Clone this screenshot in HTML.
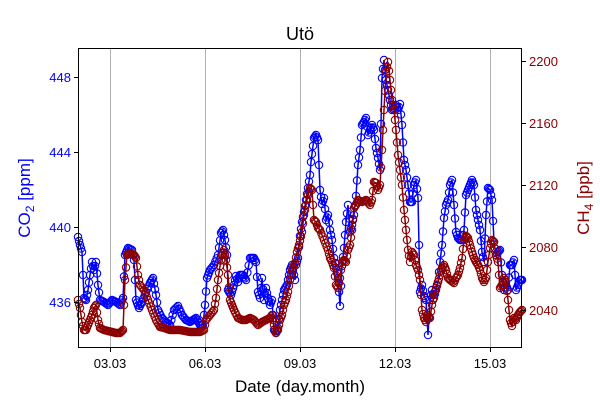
<!DOCTYPE html>
<html><head><meta charset="utf-8"><style>
html,body{margin:0;padding:0;background:#fff;}
svg{display:block;font-family:"Liberation Sans","DejaVu Sans",sans-serif;}
</style></head><body>
<svg id="s" width="600" height="400" xmlns="http://www.w3.org/2000/svg">
<rect width="600" height="400" fill="#fff"/>
<g stroke="#b0b0b0" stroke-width="1">
<line x1="110.5" y1="48" x2="110.5" y2="348"/>
<line x1="205.5" y1="48" x2="205.5" y2="348"/>
<line x1="300.5" y1="48" x2="300.5" y2="348"/>
<line x1="395.5" y1="48" x2="395.5" y2="348"/>
<line x1="490.5" y1="48" x2="490.5" y2="348"/>
</g>
<g id="data"></g>
<rect x="78.5" y="48.5" width="443" height="299" fill="none" stroke="#000" stroke-width="1"/>
<g stroke="#000">
<line x1="110.5" y1="348" x2="110.5" y2="352"/><line x1="205.5" y1="348" x2="205.5" y2="352"/>
<line x1="300.5" y1="348" x2="300.5" y2="352"/><line x1="395.5" y1="348" x2="395.5" y2="352"/>
<line x1="490.5" y1="348" x2="490.5" y2="352"/>
<line x1="74" y1="77.5" x2="78" y2="77.5"/><line x1="74" y1="152.5" x2="78" y2="152.5"/>
<line x1="74" y1="227.5" x2="78" y2="227.5"/><line x1="74" y1="302.5" x2="78" y2="302.5"/>
<line x1="522" y1="61.5" x2="526" y2="61.5"/><line x1="522" y1="123.5" x2="526" y2="123.5"/>
<line x1="522" y1="185.5" x2="526" y2="185.5"/><line x1="522" y1="247.5" x2="526" y2="247.5"/>
<line x1="522" y1="310.5" x2="526" y2="310.5"/>
</g>
<g font-size="13" text-anchor="middle" fill="#000">
<text x="110" y="368">03.03</text><text x="205" y="368">06.03</text><text x="300" y="368">09.03</text>
<text x="395" y="368">12.03</text><text x="490" y="368">15.03</text>
</g>
<g font-size="13" text-anchor="end" fill="#0000ff">
<text x="71" y="82">448</text><text x="71" y="157">444</text><text x="71" y="232">440</text><text x="71" y="307">436</text>
</g>
<g font-size="13" text-anchor="start" fill="#8b0000">
<text x="529" y="66">2200</text><text x="529" y="128">2160</text><text x="529" y="190">2120</text>
<text x="529" y="252">2080</text><text x="529" y="315">2040</text>
</g>
<text x="300" y="40" font-size="18" text-anchor="middle">Utö</text>
<text x="300" y="392" font-size="17" text-anchor="middle">Date (day.month)</text>
<text transform="translate(30,198) rotate(-90)" font-size="17" text-anchor="middle" fill="#0000ff">CO<tspan font-size="12" dy="4">2</tspan><tspan dy="-4"> [ppm]</tspan></text>
<text transform="translate(589,198) rotate(-90)" font-size="17" text-anchor="middle" fill="#8b0000">CH<tspan font-size="12" dy="4">4</tspan><tspan dy="-4"> [ppb]</tspan></text>
</svg>
<script>
var B=[78,237,80,245,82,252,84,298,86,300,88,290,90,275,92,262,94,270,96,262,98,285,100,300,104,302,108,305,112,300,116,302,120,305,123,298,125,255,128,248,132,250,134,260,136,300,139,308,142,302,146,292,150,283,153,278,156,295,158,310,162,318,166,322,170,325,174,310,178,306,182,315,186,320,190,322,196,318,200,325,203,325,205,305,207,278,210,270,214,265,218,255,221,233,223,230,225,240,227,255,228,290,231,295,234,285,236,276,238,282,240,275,243,275,246,280,250,258,254,258,256,262,258,292,260,298,262,278,264,300,266,288,268,298,270,305,272,300,274,330,276,333,278,328,280,310,282,300,284,290,287,285,290,270,292,265,295,280,296,265,298,258,300,236,302,222,304,212,306,200,308,188,310,175,311,162,314,138,316,135,318,140,320,190,322,204,324,198,326,220,328,215,330,230,332,240,334,258,336,268,338,278,340,306,342,266,344,248,346,222,348,205,350,232,352,225,354,215,356,196,358,165,360,150,362,125,364,122,366,118,368,135,370,130,372,125,374,130,376,148,378,158,380,170,382,78,384,60,386,80,388,90,390,100,392,110,394,108,396,105,398,110,400,104,402,125,404,160,406,170,408,185,410,202,412,202,414,185,416,180,418,198,420,292,422,285,424,296,426,300,428,335,430,300,432,290,434,298,436,290,438,282,440,262,442,245,444,218,446,205,448,200,450,185,452,180,454,205,456,232,458,238,460,240,462,240,464,230,466,195,468,190,470,185,472,180,474,185,476,210,478,220,480,230,482,252,484,262,486,215,488,188,490,190,492,200,494,242,496,255,498,252,500,250,502,275,504,290,506,285,508,290,510,265,512,265,514,260,516,290,518,285,520,280,522,280];
var R=[78,300,80,308,82,322,84,330,86,330,88,325,90,320,92,315,94,308,96,305,98,320,100,328,104,330,108,331,112,332,116,333,120,333,123,330,125,280,127,255,130,253,134,255,136,258,138,275,140,285,144,290,148,300,152,310,156,320,160,327,164,328,170,330,176,330,180,330,190,332,196,332,200,332,204,330,206,320,210,315,214,310,216,298,218,280,220,266,222,255,224,250,226,260,228,275,230,300,232,305,234,310,238,318,242,320,246,320,250,318,254,320,258,325,262,322,266,320,270,318,272,315,274,325,276,333,278,330,280,320,282,315,284,305,286,300,288,292,290,280,292,270,295,263,297,252,299,245,302,232,304,215,306,205,308,195,310,188,312,190,314,220,316,222,318,228,320,230,324,240,328,250,330,258,332,262,334,268,336,285,338,288,340,278,342,262,344,260,346,262,348,250,350,245,352,230,354,208,356,205,358,200,362,202,366,200,370,205,372,200,374,182,376,183,378,190,380,185,382,150,384,110,386,72,388,62,390,80,392,100,394,110,396,130,398,155,400,170,402,185,404,210,406,230,408,250,410,262,412,252,414,255,416,265,418,270,420,280,422,310,424,318,426,322,428,315,430,318,432,305,434,295,436,288,438,282,440,275,442,268,444,265,446,270,448,278,450,280,454,283,456,278,458,275,460,268,462,258,464,240,466,236,468,238,470,245,472,252,474,258,476,262,478,265,480,270,482,278,484,282,486,278,488,262,490,248,492,240,494,242,496,255,498,262,500,288,502,285,504,278,506,282,508,300,510,320,512,326,514,318,516,320,518,315,520,312,522,310];
function draw(a,c){
 var g=document.getElementById('data'),ns='http://www.w3.org/2000/svg',pts=[];
 for(var i=0;i<a.length-2;i+=2){var x0=a[i],y0=a[i+1],x1=a[i+2],y1=a[i+3];
  var n=Math.max(1,Math.round((x1-x0)/1.2));
  for(var k=0;k<n;k++){pts.push([x0+(x1-x0)*k/n,y0+(y1-y0)*k/n]);}}
 pts.push([a[a.length-2],a[a.length-1]]);
 var pl=document.createElementNS(ns,'polyline');
 pl.setAttribute('points',pts.map(function(q){return q[0].toFixed(1)+','+q[1].toFixed(1)}).join(' '));
 pl.setAttribute('fill','none');pl.setAttribute('stroke',c);pl.setAttribute('stroke-width','1.5');g.appendChild(pl);
 pts.forEach(function(q){var ci=document.createElementNS(ns,'circle');ci.setAttribute('cx',q[0]);ci.setAttribute('cy',q[1]);
  ci.setAttribute('r','3.7');ci.setAttribute('fill','none');ci.setAttribute('stroke',c);ci.setAttribute('stroke-width','1.1');g.appendChild(ci);});
}
draw(B,'#0000ff');draw(R,'#8b0000');
</script>
</body></html>
